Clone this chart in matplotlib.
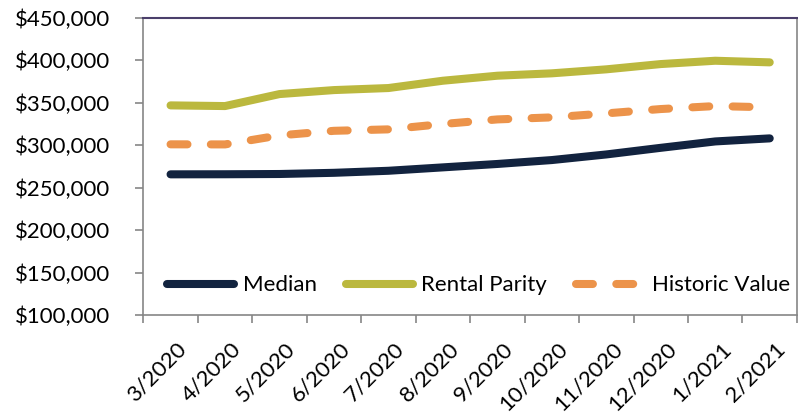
import matplotlib
matplotlib.use("Agg")
import matplotlib.pyplot as plt
from matplotlib.ticker import FuncFormatter, FixedLocator
from matplotlib.transforms import ScaledTranslation

categories = ["3/2020", "4/2020", "5/2020", "6/2020", "7/2020", "8/2020",
              "9/2020", "10/2020", "11/2020", "12/2020", "1/2021", "2/2021"]
median = [265800, 265900, 266200, 267600, 270000, 274000,
          278000, 282600, 289200, 297000, 304500, 308100]
rental_parity = [346900, 346100, 360200, 364900, 367300, 375900,
                 381800, 384600, 389300, 395500, 399400, 397500]
historic_value = [301100, 301000, 311600, 317000, 318700, 325000,
                  330400, 332800, 337500, 342600, 346100, 344600]

plt.rcParams['font.family'] = ['Lato', 'DejaVu Sans']

fig = plt.figure(figsize=(7.98, 4.15), dpi=100)
ax = fig.add_axes([0.1796, 0.2402, 0.9987 - 0.1796, 0.9573 - 0.2402])

x = list(range(len(categories)))
lw = 5.8
ax.plot(x, median, color="#12233f", lw=lw, solid_capstyle="round",
        solid_joinstyle="round", label="Median")
ax.plot(x, rental_parity, color="#bbb83e", lw=lw, solid_capstyle="round",
        solid_joinstyle="round", label="Rental Parity")
ax.plot(x, historic_value, color="#ec934a", lw=lw, dash_capstyle="round",
        linestyle=(0, (2.1, 2.9)), label="Historic Value")

ax.set_xlim(-0.5, len(categories) - 0.5)
ax.set_ylim(100000, 450000)
ax.set_yticks(range(100000, 450001, 50000))
ax.yaxis.set_major_formatter(FuncFormatter(lambda v, p: "${:,.0f}".format(v)))

ax.xaxis.set_major_locator(FixedLocator([i - 0.5 for i in range(len(categories) + 1)]))
ax.xaxis.set_major_formatter(FuncFormatter(lambda v, p: ""))
ax.set_xticks(x, minor=True)
ax.set_xticklabels(categories, minor=True, rotation=45, ha="right",
                   rotation_mode="anchor", fontsize=16)
ax.tick_params(axis="x", which="minor", length=0, pad=17)
ax.tick_params(axis="x", which="major", length=6, color="#868686", width=1.2)
ax.tick_params(axis="y", length=6, color="#868686", width=1.2, labelsize=16, pad=18)
shift = ScaledTranslation(4 / 72, 0, fig.dpi_scale_trans)
for lab in ax.get_xticklabels(minor=True):
    lab.set_transform(lab.get_transform() + shift)

for side in ["left", "bottom", "right"]:
    ax.spines[side].set_color("#868686")
    ax.spines[side].set_linewidth(1.2)
ax.spines["top"].set_color("#4b3f6b")
ax.spines["top"].set_linewidth(1.5)

leg = ax.legend(loc="lower center", bbox_to_anchor=(0.513, 0.0), ncol=3, frameon=False,
                fontsize=16, handlelength=3.0, handletextpad=0.4, columnspacing=1.3)

fig.savefig("out.png", dpi=100)
